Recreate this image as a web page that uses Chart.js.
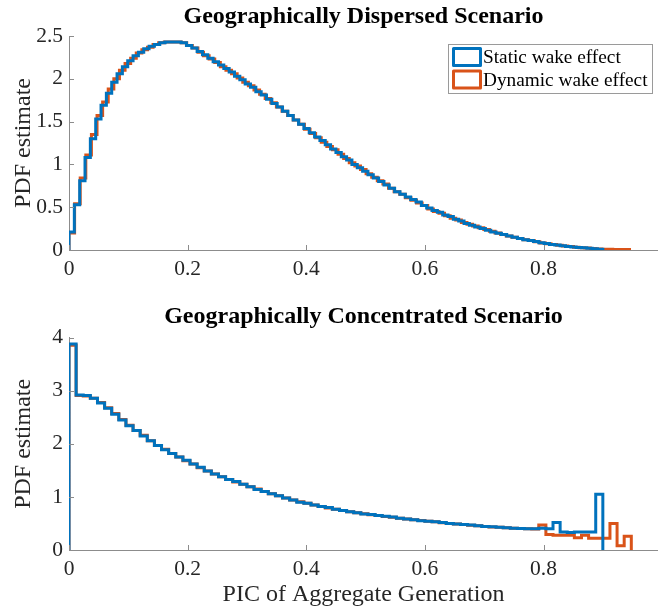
<!DOCTYPE html>
<html>
<head>
<meta charset="utf-8">
<title>PDF estimate of aggregate generation</title>
<script src="https://cdn.jsdelivr.net/npm/chart.js@4.4.1/dist/chart.umd.min.js"></script>
<style>
  html, body { margin: 0; padding: 0; background: #fff; overflow: hidden; }
  canvas { display: block; }
</style>
</head>
<body>
<canvas id="dispersedChart" width="658" height="300"></canvas>
<canvas id="concentratedChart" width="658" height="311"></canvas>
<script>
const seriesNames = ['Static wake effect', 'Dynamic wake effect'];
const xTicks = [0, 0.2, 0.4, 0.6, 0.8];

// histogram bin widths (every histogram starts at 0)
const dispersedStaticBin = 0.009;
const dispersedDynamicBin = 0.00945;
const concentratedBin = 0.012;

// PDF heights, one value per bin
const dispersedStatic = [
    0.21, 0.53, 0.81, 1.08, 1.30, 1.53, 1.69, 1.83, 1.96, 2.06,
    2.14, 2.21, 2.27, 2.31, 2.35, 2.38, 2.40, 2.42, 2.43, 2.43,
    2.43, 2.42, 2.39, 2.36, 2.32, 2.28, 2.24, 2.20, 2.16, 2.12,
    2.08, 2.03, 1.99, 1.94, 1.90, 1.85, 1.81, 1.76, 1.71, 1.67,
    1.62, 1.57, 1.52, 1.47, 1.42, 1.37, 1.32, 1.28, 1.23, 1.18,
    1.14, 1.09, 1.05, 1.00, 0.96, 0.92, 0.88, 0.84, 0.80, 0.76,
    0.72, 0.68, 0.65, 0.62, 0.59, 0.56, 0.52, 0.49, 0.46, 0.44,
    0.41, 0.39, 0.36, 0.34, 0.31, 0.29, 0.27, 0.25, 0.23, 0.21,
    0.195, 0.18, 0.165, 0.15, 0.135, 0.12, 0.11, 0.10, 0.085, 0.075,
    0.065, 0.058, 0.05, 0.042, 0.036, 0.03, 0.025, 0.02, 0.015, 0.01
];
const dispersedDynamic = [
    0.20, 0.54, 0.84, 1.11, 1.35, 1.57, 1.73, 1.88, 2.00, 2.10,
    2.18, 2.24, 2.30, 2.34, 2.37, 2.40, 2.42, 2.43, 2.43, 2.43,
    2.42, 2.39, 2.36, 2.31, 2.27, 2.23, 2.19, 2.14, 2.10, 2.06,
    2.01, 1.96, 1.92, 1.87, 1.82, 1.77, 1.72, 1.67, 1.62, 1.57,
    1.52, 1.47, 1.41, 1.36, 1.31, 1.26, 1.21, 1.17, 1.12, 1.07,
    1.02, 0.98, 0.94, 0.89, 0.85, 0.81, 0.77, 0.72, 0.68, 0.65,
    0.61, 0.58, 0.55, 0.52, 0.48, 0.45, 0.43, 0.40, 0.37, 0.35,
    0.32, 0.30, 0.28, 0.26, 0.24, 0.22, 0.20, 0.18, 0.165, 0.15,
    0.135, 0.12, 0.11, 0.095, 0.083, 0.073, 0.063, 0.055, 0.047, 0.04,
    0.033, 0.027, 0.022, 0.017, 0.013, 0.01, 0.008, 0.007, 0.006, 0.005
];
const concentratedStatic = [
    3.88, 2.92, 2.91, 2.86, 2.77, 2.67, 2.56, 2.45, 2.34, 2.25,
    2.15, 2.06, 1.97, 1.89, 1.82, 1.75, 1.69, 1.62, 1.56, 1.49,
    1.43, 1.38, 1.33, 1.29, 1.24, 1.19, 1.14, 1.10, 1.06, 1.02,
    0.98, 0.94, 0.90, 0.88, 0.85, 0.82, 0.80, 0.77, 0.745, 0.72,
    0.70, 0.68, 0.67, 0.65, 0.635, 0.62, 0.60, 0.585, 0.57, 0.55,
    0.54, 0.53, 0.52, 0.50, 0.49, 0.48, 0.47, 0.455, 0.445, 0.44,
    0.43, 0.42, 0.41, 0.405, 0.40, 0.40, 0.41, 0.40, 0.52, 0.34,
    0.33, 0.34, 0.34, 0.34, 1.05
];
const concentratedDynamic = [
    3.86, 2.91, 2.90, 2.86, 2.78, 2.68, 2.57, 2.46, 2.35, 2.25,
    2.16, 2.06, 1.97, 1.90, 1.82, 1.75, 1.68, 1.62, 1.55, 1.49,
    1.43, 1.38, 1.33, 1.28, 1.24, 1.19, 1.15, 1.10, 1.06, 1.02,
    0.98, 0.94, 0.91, 0.88, 0.85, 0.82, 0.79, 0.77, 0.745, 0.72,
    0.70, 0.685, 0.665, 0.65, 0.63, 0.615, 0.60, 0.585, 0.57, 0.555,
    0.54, 0.53, 0.515, 0.50, 0.49, 0.48, 0.465, 0.455, 0.445, 0.435,
    0.43, 0.42, 0.41, 0.405, 0.40, 0.395, 0.47, 0.29, 0.28, 0.28,
    0.28, 0.23, 0.28, 0.22, 0.22, 0.22, 0.50, 0.08, 0.26
];

const BLUE = '#0072BD';
const ORANGE = '#D95319';
const FONT = '"Liberation Serif", "Times New Roman", serif';
const AXIS_GRAY = '#8c8c8c';
const TEXT = '#262626';

// outline of a histogram: up from 0 at the first edge, across each bin, back down to 0
function stairs(values, width) {
    const pts = [{ x: 0, y: 0 }];
    values.forEach((v, i) => pts.push({ x: i * width, y: v }));
    pts.push({ x: values.length * width, y: 0 });
    return pts;
}

// short tick marks pointing into the plot
const inwardTicks = {
    id: 'inwardTicks',
    afterDraw(chart) {
        const ctx = chart.ctx;
        const area = chart.chartArea;
        const len = 5;
        ctx.save();
        ctx.strokeStyle = AXIS_GRAY;
        ctx.lineWidth = 1;
        ctx.beginPath();
        chart.scales.x.ticks.forEach(t => {
            const px = Math.round(chart.scales.x.getPixelForValue(t.value)) + 0.5;
            ctx.moveTo(px, area.bottom);
            ctx.lineTo(px, area.bottom - len);
        });
        chart.scales.y.ticks.forEach(t => {
            const py = Math.round(chart.scales.y.getPixelForValue(t.value)) + 0.5;
            ctx.moveTo(area.left, py);
            ctx.lineTo(area.left + len, py);
        });
        ctx.stroke();
        ctx.restore();
    }
};

// boxed legend in the upper right corner of the plot
const boxLegend = {
    id: 'boxLegend',
    afterDraw(chart) {
        const ctx = chart.ctx;
        const area = chart.chartArea;
        const w = 204, h = 49;
        const x0 = area.right - 210;
        const y0 = area.top + 8;
        ctx.save();
        ctx.fillStyle = '#fff';
        ctx.fillRect(x0, y0, w, h);
        ctx.strokeStyle = '#9a9a9a';
        ctx.lineWidth = 1;
        ctx.strokeRect(x0 + 0.5, y0 + 0.5, w, h);
        ctx.font = '19.3px ' + FONT;
        ctx.textBaseline = 'middle';
        ctx.textAlign = 'left';
        chart.data.datasets.forEach((ds, i) => {
            const cy = y0 + 13 + i * 22.5;
            ctx.strokeStyle = ds.borderColor;
            ctx.lineWidth = 3;
            ctx.lineJoin = 'round';
            ctx.strokeRect(x0 + 5.5, cy - 8.5, 27, 17);
            ctx.fillStyle = '#000';
            ctx.fillText(ds.label, x0 + 35, cy + 1);
        });
        ctx.restore();
    }
};

function makeChart(canvasId, opts) {
    const plugins = [inwardTicks];
    if (opts.legend) plugins.push(boxLegend);
    return new Chart(document.getElementById(canvasId), {
        type: 'line',
        data: {
            datasets: [{
                label: seriesNames[0],
                data: opts.staticPts,
                borderColor: BLUE,
                borderWidth: 3,
                stepped: 'before',
                pointRadius: 0,
                fill: false
            }, {
                label: seriesNames[1],
                data: opts.dynamicPts,
                borderColor: ORANGE,
                borderWidth: 3,
                stepped: 'before',
                pointRadius: 0,
                fill: false
            }]
        },
        options: {
            responsive: false,
            animation: false,
            events: [],
            layout: { padding: 0 },
            plugins: {
                legend: { display: false },
                tooltip: { enabled: false },
                title: {
                    display: true,
                    text: opts.title,
                    fullSize: false,
                    color: '#000',
                    font: { family: FONT, size: 24, weight: 'bold', lineHeight: 1.2 },
                    padding: opts.titlePadding
                }
            },
            scales: {
                x: {
                    type: 'linear',
                    min: 0,
                    max: 0.993,
                    afterBuildTicks: scale => {
                        scale.ticks = xTicks.map(v => ({ value: v }));
                    },
                    afterFit: scale => {
                        scale.height = opts.xHeight;
                    },
                    grid: { display: false, drawTicks: false },
                    border: { display: true, color: AXIS_GRAY, width: 1 },
                    ticks: {
                        color: TEXT,
                        padding: 6,
                        maxRotation: 0,
                        font: { family: FONT, size: 21.5 },
                        callback: v => String(v)
                    },
                    title: {
                        display: !!opts.xTitle,
                        text: opts.xTitle || '',
                        color: TEXT,
                        font: { family: FONT, size: 24, lineHeight: 1.2 },
                        padding: { top: 0, bottom: 2 }
                    }
                },
                y: {
                    min: 0,
                    max: opts.yMax,
                    afterFit: scale => {
                        scale.width = 69;
                    },
                    grid: { display: false, drawTicks: false },
                    border: { display: true, color: AXIS_GRAY, width: 1 },
                    ticks: {
                        stepSize: opts.yStep,
                        color: TEXT,
                        padding: 6,
                        font: { family: FONT, size: 21.5 },
                        callback: v => String(v)
                    },
                    title: {
                        display: true,
                        text: 'PDF estimate',
                        color: TEXT,
                        font: { family: FONT, size: 24, lineHeight: 1.2 },
                        padding: { top: 9.8, bottom: 0 }
                    }
                }
            }
        },
        plugins: plugins
    });
}

makeChart('dispersedChart', {
    title: 'Geographically Dispersed Scenario',
    titlePadding: { top: 2.5, bottom: 4.7 },
    staticPts: stairs(dispersedStatic, dispersedStaticBin),
    dynamicPts: stairs(dispersedDynamic, dispersedDynamicBin),
    yMax: 2.5,
    yStep: 0.5,
    xHeight: 50,
    legend: true
});

makeChart('concentratedChart', {
    title: 'Geographically Concentrated Scenario',
    titlePadding: { top: 2.5, bottom: 6.4 },
    staticPts: stairs(concentratedStatic, concentratedBin),
    dynamicPts: stairs(concentratedDynamic, concentratedBin),
    yMax: 4,
    yStep: 1,
    xHeight: 61,
    xTitle: 'PIC of Aggregate Generation',
    legend: false
});
</script>
</body>
</html>
